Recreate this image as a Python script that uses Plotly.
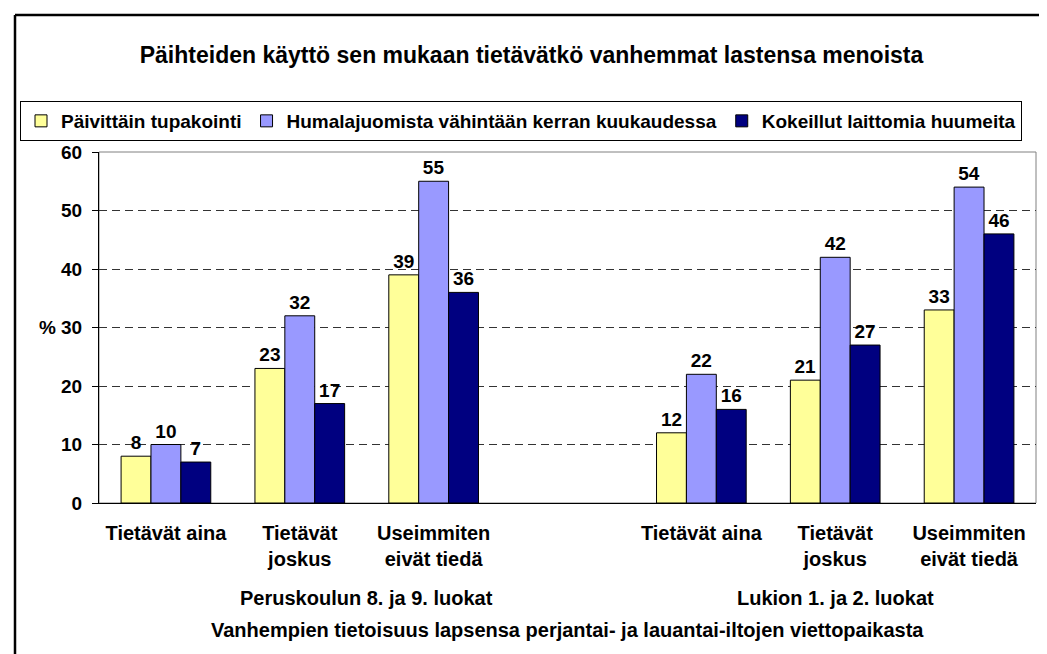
import plotly.graph_objects as go

# ---- data ----
series_names = ["Päivittäin tupakointi",
                "Humalajuomista vähintään kerran kuukaudessa",
                "Kokeillut laittomia huumeita"]
x_positions = [0, 1, 2, 4, 5, 6]
category_labels = ["Tietävät aina", "Tietävät<br>joskus", "Useimmiten<br>eivät tiedä",
                   "Tietävät aina", "Tietävät<br>joskus", "Useimmiten<br>eivät tiedä"]
smoking = [8, 23, 39, 12, 21, 33]
drinking = [10, 32, 55, 22, 42, 54]
drugs = [7, 17, 36, 16, 27, 46]
group_labels = ["Peruskoulun 8. ja 9. luokat", "Lukion 1. ja 2. luokat"]
group_centers = [1.5, 5]
y_ticks = [0, 10, 20, 30, 40, 50, 60]
y_ticktext = ["0", "10", "20", "% 30", "40", "50", "60"]
title_text = "Päihteiden käyttö sen mukaan tietävätkö vanhemmat lastensa menoista"
x_title = "Vanhempien tietoisuus lapsensa perjantai- ja lauantai-iltojen viettopaikasta"

colors = ["#FFFF99", "#9999FF", "#000080"]
FONT = "Arial, Liberation Sans, sans-serif"
FS = 19
FS_LAB = 20

W, H = 1047, 654
L, R, T, B = 91, 19, 144, 159
pw, ph = W - L - R, H - T - B

def px_to_paper_x(px):
    return (px - L) / pw

def px_to_paper_y(py):
    return (H - B - py) / ph

fig = go.Figure()
for name, vals, col in zip(series_names, [smoking, drinking, drugs], colors):
    fig.add_trace(go.Bar(
        name=name, x=x_positions, y=vals,
        marker=dict(color=col, line=dict(color="black", width=1)),
        text=[str(v) for v in vals], textposition="outside",
        textfont=dict(family=FONT, size=FS, color="black", weight="bold"),
        constraintext="none", cliponaxis=False,
    ))

annotations = []
for lab, c in zip(group_labels, group_centers):
    annotations.append(dict(text=lab, x=c, xref="x", y=px_to_paper_y(590), yref="paper",
                            showarrow=False, yanchor="middle",
                            font=dict(family=FONT, size=FS_LAB, color="black", weight="bold")))
annotations.append(dict(text=x_title, x=0.5, xref="paper", y=px_to_paper_y(622), yref="paper",
                        showarrow=False, yanchor="middle",
                        font=dict(family=FONT, size=FS_LAB, color="black", weight="bold")))

shapes = [
    # plot area border
    dict(type="rect", xref="paper", yref="paper", x0=0, x1=1, y0=0, y1=1,
         line=dict(color="#808080", width=1), layer="below"),
    # chart outer border (left and top)
    dict(type="line", xref="paper", yref="paper",
         x0=px_to_paper_x(7), x1=px_to_paper_x(7), y0=px_to_paper_y(700), y1=px_to_paper_y(7),
         line=dict(color="black", width=2.5)),
    dict(type="line", xref="paper", yref="paper",
         x0=px_to_paper_x(7), x1=px_to_paper_x(1060), y0=px_to_paper_y(7), y1=px_to_paper_y(7),
         line=dict(color="black", width=2.5)),
]

fig.update_layout(
    width=W, height=H,
    margin=dict(l=L, r=R, t=T, b=B, autoexpand=False),
    paper_bgcolor="white", plot_bgcolor="white",
    font=dict(family=FONT, color="black", weight="bold"),
    barmode="group", bargap=0.33, bargroupgap=0,
    title=dict(text=title_text, x=0.5, xref="container", xanchor="center",
               y=1 - 47 / H, yref="container", yanchor="middle",
               font=dict(family=FONT, size=23, color="black", weight="bold")),
    legend=dict(orientation="h", x=px_to_paper_x(12), xref="paper", xanchor="left",
                y=px_to_paper_y(113), yanchor="middle",
                bordercolor="black", borderwidth=1, bgcolor="white",
                font=dict(family=FONT, size=FS, color="black", weight="bold"),
                traceorder="normal", itemclick=False, itemdoubleclick=False),
    xaxis=dict(range=[-0.5, 6.5], tickmode="array", tickvals=x_positions,
               ticktext=category_labels, showgrid=False, zeroline=False,
               showline=True, linecolor="black", linewidth=1, ticks="",
               ticklabelstandoff=12,
               tickfont=dict(family=FONT, size=FS_LAB, color="black", weight="bold")),
    yaxis=dict(range=[0, 60], tickmode="array", tickvals=y_ticks, ticktext=y_ticktext,
               showgrid=True, gridcolor="#333333", griddash="8px,5px", gridwidth=1,
               zeroline=False, showline=True, linecolor="black", linewidth=1,
               ticks="outside", ticklen=6, tickcolor="black", ticklabelstandoff=6,
               tickfont=dict(family=FONT, size=FS, color="black", weight="bold")),
    annotations=annotations, shapes=shapes,
    showlegend=True,
)

fig.write_html("out.html")
